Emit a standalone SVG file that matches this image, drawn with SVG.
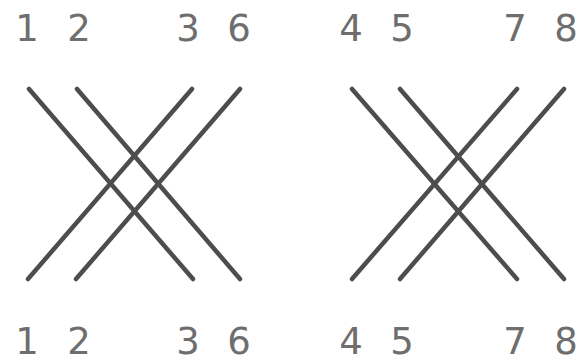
<svg xmlns="http://www.w3.org/2000/svg" width="583" height="364" viewBox="0 0 583 364">
<style>
.lbl{font-family:"DejaVu Sans","Verdana",sans-serif;font-size:37px;fill:#6e6e6e;text-anchor:middle}
.w{stroke:#4d4d4d;stroke-width:4.5;stroke-linecap:round;fill:none}
</style>
<rect width="583" height="364" fill="#ffffff"/>
<g id="labels-top">
<text class="lbl" x="27" y="41">1</text>
<text class="lbl" x="79" y="41">2</text>
<text class="lbl" x="188" y="41">3</text>
<text class="lbl" x="239" y="41">6</text>
<text class="lbl" x="351" y="41">4</text>
<text class="lbl" x="402" y="41">5</text>
<text class="lbl" x="515" y="41">7</text>
<text class="lbl" x="566" y="41">8</text>
</g>
<g id="labels-bottom">
<text class="lbl" x="27" y="354">1</text>
<text class="lbl" x="79" y="354">2</text>
<text class="lbl" x="188" y="354">3</text>
<text class="lbl" x="239" y="354">6</text>
<text class="lbl" x="351" y="354">4</text>
<text class="lbl" x="402" y="354">5</text>
<text class="lbl" x="515" y="354">7</text>
<text class="lbl" x="566" y="354">8</text>
</g>
<g id="connectors">
<line class="w" x1="29" y1="89" x2="193" y2="279"/>
<line class="w" x1="77" y1="89" x2="240" y2="279"/>
<line class="w" x1="192" y1="89" x2="28" y2="279"/>
<line class="w" x1="240" y1="89" x2="76" y2="279"/>
<line class="w" x1="352" y1="89" x2="517" y2="279"/>
<line class="w" x1="400" y1="89" x2="564" y2="279"/>
<line class="w" x1="517" y1="89" x2="352" y2="279"/>
<line class="w" x1="564" y1="89" x2="400" y2="279"/>
</g>
</svg>
